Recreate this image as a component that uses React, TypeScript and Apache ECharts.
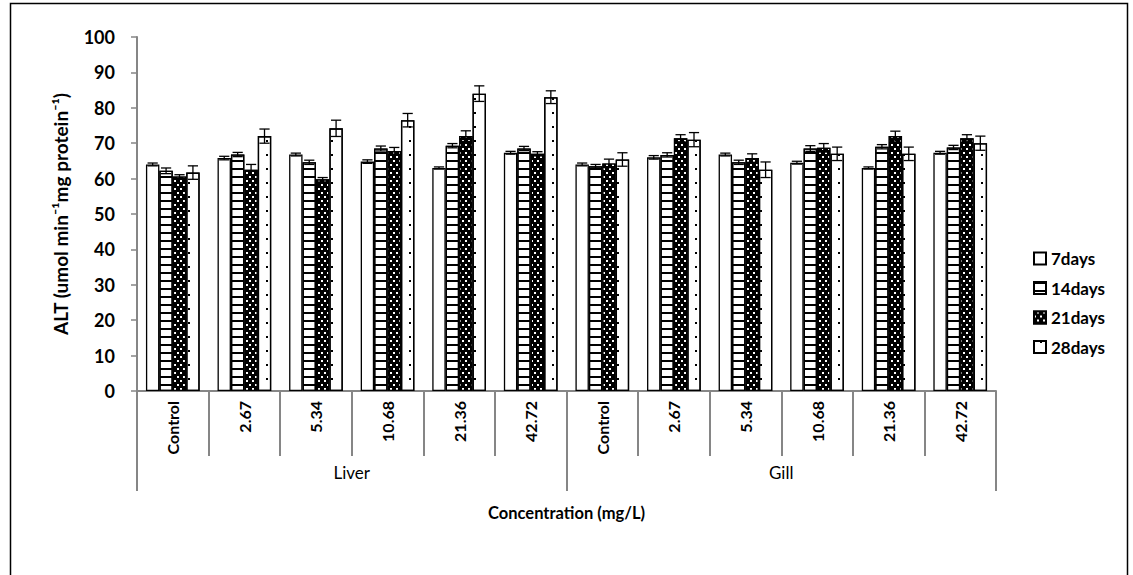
import React, { useEffect, useRef } from "react";
import * as echarts from "echarts";

const categories = ["Control", "2.67", "5.34", "10.68", "21.36", "42.72", "Control", "2.67", "5.34", "10.68", "21.36", "42.72"];
const tissues = ["Liver", "Gill"];
const seriesNames = ["7days", "14days", "21days", "28days"];

const d7 = [64.0, 65.8, 66.8, 64.8, 63.0, 67.3, 64.0, 66.0, 66.8, 64.5, 63.0, 67.3];
const d14 = [62.2, 66.8, 64.6, 68.5, 69.3, 68.5, 63.5, 66.7, 64.6, 68.5, 69.0, 68.8];
const d21 = [60.6, 62.5, 59.8, 67.8, 72.0, 67.0, 64.3, 71.4, 65.8, 68.7, 72.0, 71.4];
const d28 = [61.7, 72.0, 74.2, 76.5, 84.0, 83.0, 65.4, 71.0, 62.5, 67.0, 67.0, 70.0];

const e7 = [0.4, 0.5, 0.4, 0.5, 0.3, 0.4, 0.4, 0.5, 0.4, 0.4, 0.3, 0.4];
const e14 = [0.8, 0.6, 0.6, 0.7, 0.6, 0.6, 0.5, 0.6, 0.6, 0.8, 0.6, 0.6];
const e21 = [0.5, 1.5, 0.5, 1.0, 1.5, 0.6, 1.2, 1.0, 1.2, 1.2, 1.4, 1.0];
const e28 = [1.9, 2.0, 2.3, 1.9, 2.2, 1.8, 1.9, 2.0, 2.2, 1.9, 1.9, 2.0];

const yTicks = [0, 10, 20, 30, 40, 50, 60, 70, 80, 90, 100];

const FONT = "Lato, 'Open Sans', sans-serif";
const GRAY = "#868686";

export default function App() {
  const ref = useRef<HTMLDivElement>(null);

  useEffect(() => {
    if (!ref.current) return;
    const chart = echarts.init(ref.current, null, { renderer: "svg" });

    const values = [d7, d14, d21, d28];
    const errs = [e7, e14, e21, e28];

    const styles: any[] = [
      { color: "#ffffff", borderColor: "#000", borderWidth: 1.3 },
      {
        color: "#ffffff",
        borderColor: "#000",
        borderWidth: 1.3,
        decal: { symbol: "rect", symbolSize: 1, color: "#000", dashArrayX: [1, 0], dashArrayY: [1.8, 5.2] },
      },
      {
        color: "#000000",
        borderColor: "#000",
        borderWidth: 1.3,
        decal: {
          symbol: "rect",
          symbolSize: 1,
          color: "#ffffff",
          dashArrayX: [[1.5, 3.5], [0, 2.5, 1.5, 1]],
          dashArrayY: [1.5, 2],
        },
      },
      {
        color: "#ffffff",
        borderColor: "#000",
        borderWidth: 1.3,
        decal: { symbol: "rect", symbolSize: 1, color: "#000", dashArrayX: [[0, 6, 2, 5]], dashArrayY: [2, 11.5] },
      },
    ];

    const barSeries = seriesNames.map((name, s) => ({
      name,
      type: "bar",
      xAxisIndex: 0,
      barGap: "0%",
      barCategoryGap: "25%",
      itemStyle: styles[s],
      data: values[s],
    }));

    const errData: number[][] = [];
    values.forEach((arr, s) => {
      arr.forEach((v, i) => errData.push([i, v, errs[s][i], s]));
    });

    const errSeries = {
      type: "custom",
      xAxisIndex: 0,
      z: 10,
      encode: { x: 0, y: 1 },
      data: errData,
      renderItem: (params: any, api: any) => {
        const cat = api.value(0);
        const val = api.value(1);
        const err = api.value(2);
        const s = api.value(3);
        const band = api.size([1, 0])[0];
        const bw = band * 0.1875;
        const base = api.coord([cat, val]);
        const x = base[0] + (s - 1.5) * bw;
        const top = api.coord([cat, val + err])[1];
        const bot = api.coord([cat, val - err])[1];
        const cap = bw * 0.38;
        const st = { stroke: "#000", lineWidth: 1.3 };
        return {
          type: "group",
          children: [
            { type: "line", shape: { x1: x, y1: top, x2: x, y2: bot }, style: st },
            { type: "line", shape: { x1: x - cap, y1: top, x2: x + cap, y2: top }, style: st },
            { type: "line", shape: { x1: x - cap, y1: bot, x2: x + cap, y2: bot }, style: st },
          ],
        };
      },
    };

    chart.setOption({
      animation: false,
      backgroundColor: "#ffffff",
      textStyle: { fontFamily: FONT },
      grid: { left: 137, right: 137, top: 37, bottom: 184, containLabel: false },
      legend: {
        orient: "vertical",
        left: 1028,
        top: 245,
        itemWidth: 12,
        itemHeight: 12,
        itemGap: 12.5,
        icon: "rect",
        data: seriesNames,
        textStyle: { fontFamily: FONT, fontSize: 17, fontWeight: "bold", color: "#000" },
      },
      xAxis: [
        {
          type: "category",
          data: categories,
          position: "bottom",
          axisLine: { show: true, lineStyle: { color: GRAY, width: 2 } },
          axisTick: { show: true, length: 65, lineStyle: { color: GRAY, width: 2 } },
          axisLabel: {
            rotate: 90,
            margin: 10,
            fontFamily: FONT,
            fontSize: 16,
            fontWeight: "bold",
            color: "#000",
            interval: 0,
          },
          splitLine: { show: false },
        },
        {
          type: "category",
          data: tissues,
          position: "bottom",
          axisLine: { show: false },
          axisTick: { show: true, length: 100, lineStyle: { color: GRAY, width: 2 } },
          axisLabel: { margin: 73, fontFamily: FONT, fontSize: 17, color: "#000", interval: 0 },
          name: "Concentration (mg/L)",
          nameLocation: "middle",
          nameGap: 113,
          nameTextStyle: { fontFamily: FONT, fontSize: 16.5, fontWeight: "bold", color: "#000" },
          splitLine: { show: false },
        },
      ],
      yAxis: {
        type: "value",
        min: yTicks[0],
        max: yTicks[yTicks.length - 1],
        interval: 10,
        axisLine: { show: true, lineStyle: { color: GRAY, width: 2 } },
        axisTick: { show: true, inside: false, length: 6, lineStyle: { color: GRAY, width: 1.5 } },
        axisLabel: { margin: 22, fontFamily: FONT, fontSize: 18, fontWeight: "bold", color: "#000" },
        splitLine: { show: false },
        name: "ALT (umol min⁻¹mg protein⁻¹)",
        nameLocation: "middle",
        nameGap: 67,
        nameTextStyle: { fontFamily: FONT, fontSize: 19, fontWeight: "bold", color: "#000" },
      },
      graphic: [
        {
          type: "rect",
          left: 8,
          top: 1,
          shape: { width: 1117, height: 590 },
          style: { fill: "none", stroke: "#000", lineWidth: 1.5 },
          silent: true,
        },
      ],
      series: [...barSeries, errSeries],
    });

    return () => chart.dispose();
  }, []);

  return (
    <div
      ref={ref}
      style={{ position: "absolute", left: 0, top: 0, width: 1133, height: 575 }}
    />
  );
}
